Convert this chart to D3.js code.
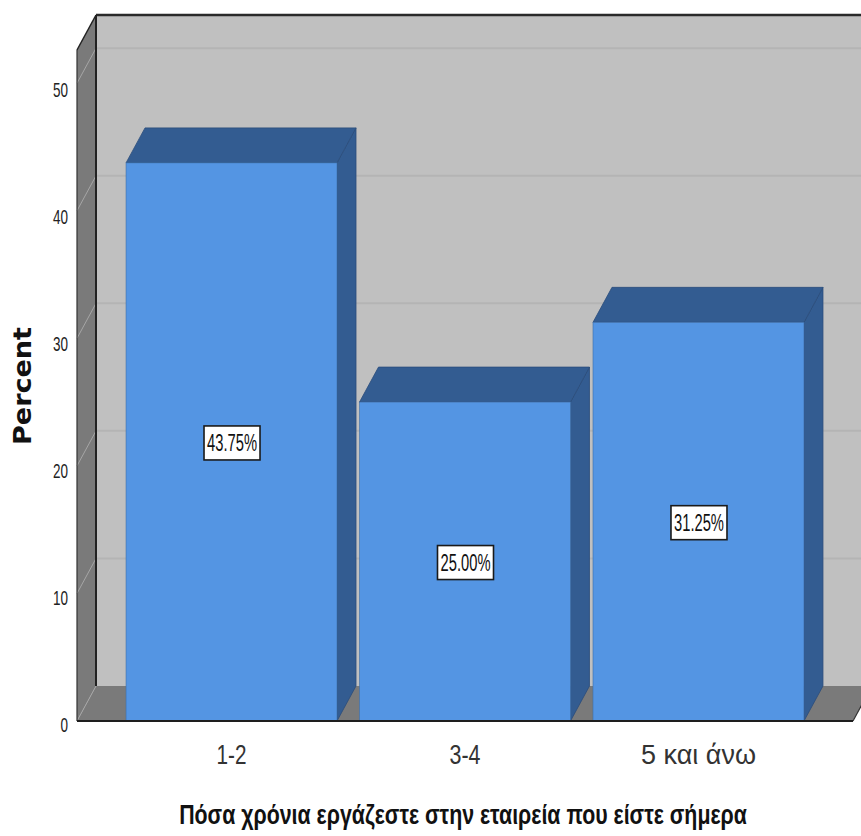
<!DOCTYPE html>
<html>
<head>
<meta charset="utf-8">
<script src="https://cdn.jsdelivr.net/npm/d3@7"></script>
<style>
  html, body { margin: 0; padding: 0; background: #ffffff; }
  svg { display: block; }
</style>
</head>
<body>
<svg id="chart" width="861" height="836"></svg>
<script>
// ---- data ----
const categories = ["1-2", "3-4", "5 και άνω"];
const percents = [43.75, 25.00, 31.25];
const barLabels = ["43.75%", "25.00%", "31.25%"];
const yTicks = [0, 10, 20, 30, 40, 50];
const yAxisTitle = "Percent";
const xAxisTitle = "Πόσα χρόνια εργάζεστε στην εταιρεία που είστε σήμερα";
const yMax = 52.6;

// ---- layout ----
const W = 861, H = 836;
const pLeft = 77, pRight = 853, pBottom = 721, pTop = 50;
const dx = 19, dy = -35;

const svg = d3.select("#chart");

const x = d3.scaleBand().domain(categories).range([pLeft, pRight])
  .paddingInner(0.0964).paddingOuter(0.21);
const y = d3.scaleLinear().domain([0, yMax]).range([pBottom, pTop]);
const yLabel = d3.scaleLinear().domain([0, 50]).range([pBottom + 3, 89.5]);

const wallColor = "#c0c0c0";
const sideColor = "#7a7a7a";
const frontBlue = "#5495e3";
const darkBlue = "#335c91";

// back wall
svg.append("rect")
  .attr("x", pLeft + dx).attr("y", y(yMax) + dy)
  .attr("width", W).attr("height", y(0) - y(yMax))
  .attr("fill", wallColor);

// back wall grid lines
svg.append("g").selectAll("line").data(yTicks.filter(d => d > 0)).join("line")
  .attr("x1", pLeft + dx).attr("x2", W)
  .attr("y1", d => y(d) + dy).attr("y2", d => y(d) + dy)
  .attr("stroke", "#b4b4b4").attr("stroke-width", 2);

const pts = a => a.map(p => p.join(",")).join(" ");
// left wall
svg.append("polygon")
  .attr("points", pts([[pLeft, y(yMax)], [pLeft + dx, y(yMax) + dy], [pLeft + dx, y(0) + dy], [pLeft, y(0)]]))
  .attr("fill", sideColor);

// floor
svg.append("polygon")
  .attr("points", pts([[pLeft, y(0)], [pLeft + dx, y(0) + dy], [pRight + dx, y(0) + dy], [pRight, y(0)]]))
  .attr("fill", sideColor);

// left wall grid diagonals
svg.append("g").selectAll("line").data(yTicks).join("line")
  .attr("x1", pLeft).attr("x2", pLeft + dx)
  .attr("y1", d => y(d)).attr("y2", d => y(d) + dy)
  .attr("stroke", "#a6a6a6").attr("stroke-width", 1);

// frame edges
svg.append("line").attr("x1", pLeft + dx).attr("x2", W)
  .attr("y1", y(yMax) + dy).attr("y2", y(yMax) + dy)
  .attr("stroke", "#2a2a2a").attr("stroke-width", 2.5);
svg.append("line").attr("x1", pLeft + dx).attr("x2", pLeft + dx)
  .attr("y1", y(yMax) + dy).attr("y2", y(0) + dy)
  .attr("stroke", "#222").attr("stroke-width", 2);
svg.append("line").attr("x1", pLeft).attr("x2", pLeft + dx)
  .attr("y1", y(yMax)).attr("y2", y(yMax) + dy)
  .attr("stroke", "#222").attr("stroke-width", 1.5);
svg.append("line").attr("x1", pLeft).attr("x2", pLeft)
  .attr("y1", y(yMax)).attr("y2", y(0))
  .attr("stroke", "#333").attr("stroke-width", 1.2);
svg.append("line").attr("x1", pRight).attr("x2", pRight + dx)
  .attr("y1", y(0)).attr("y2", y(0) + dy)
  .attr("stroke", "#333").attr("stroke-width", 1.2);

// bars
const bars = svg.append("g").selectAll("g").data(percents).join("g");
bars.each(function(v, i) {
  const g = d3.select(this);
  const x0 = x(categories[i]), x1 = x0 + x.bandwidth();
  const yt = y(v), yb = y(0);
  g.append("polygon")
    .attr("points", pts([[x1, yt], [x1 + dx, yt + dy], [x1 + dx, yb + dy], [x1, yb]]))
    .attr("fill", darkBlue).attr("stroke", "#2b4d7b").attr("stroke-width", 0.8);
  g.append("polygon")
    .attr("points", pts([[x0, yt], [x0 + dx, yt + dy], [x1 + dx, yt + dy], [x1, yt]]))
    .attr("fill", darkBlue).attr("stroke", "#2b4d7b").attr("stroke-width", 0.8);
  g.append("rect")
    .attr("x", x0).attr("y", yt).attr("width", x1 - x0).attr("height", yb - yt)
    .attr("fill", frontBlue).attr("stroke", "#3f6fa8").attr("stroke-width", 0.6);
});

// floor front edge
svg.append("line").attr("x1", pLeft).attr("x2", pRight)
  .attr("y1", y(0)).attr("y2", y(0))
  .attr("stroke", "#1e1e1e").attr("stroke-width", 2.2);

// helper: horizontally squeeze a text to a target width (keeps glyph height)
function squeeze(sel, cx, cy, target) {
  sel.attr("text-anchor", "middle").attr("x", 0).attr("y", 0);
  const len = sel.node().getComputedTextLength();
  const s = len > 0 ? target / len : 1;
  sel.attr("transform", `translate(${cx},${cy}) scale(${s},1)`);
}

// value labels
const lab = svg.append("g").selectAll("g").data(percents).join("g")
  .attr("transform", (v, i) => `translate(${x(categories[i]) + x.bandwidth() / 2 + 0.5},${(y(v) + y(0)) / 2 + 1})`);
lab.append("rect")
  .attr("x", -28).attr("y", -17).attr("width", 56).attr("height", 34)
  .attr("fill", "#ffffff").attr("stroke", "#1a1a1a").attr("stroke-width", 1.6);
lab.append("text")
  .attr("font-family", "Liberation Sans, Arial, sans-serif").attr("font-size", 23)
  .attr("fill", "#111")
  .text((v, i) => barLabels[i])
  .each(function() { squeeze(d3.select(this), 0, 8, 50); });

// y tick labels
svg.append("g").selectAll("text").data(yTicks).join("text")
  .attr("font-family", "Liberation Sans, Arial, sans-serif").attr("font-size", 20)
  .attr("fill", "#222")
  .text(d => d)
  .each(function(d) {
    const w = String(d).length * 7.5;
    squeeze(d3.select(this), 68 - w / 2, yLabel(d) + 7.5, w);
  });

// x tick labels
const xLabLen = { "1-2": 30, "3-4": 31, "5 και άνω": 115 };
svg.append("g").selectAll("text").data(categories).join("text")
  .attr("font-family", "Liberation Sans, Arial, sans-serif").attr("font-size", 28)
  .attr("fill", "#333")
  .text(d => d)
  .each(function(d) { squeeze(d3.select(this), x(d) + x.bandwidth() / 2, 764, xLabLen[d]); });

// y axis title
svg.append("text")
  .attr("transform", "translate(31,386) rotate(-90)")
  .attr("text-anchor", "middle")
  .attr("font-family", "DejaVu Sans, sans-serif").attr("font-weight", "bold").attr("font-size", 24)
  .attr("textLength", 118).attr("lengthAdjust", "spacingAndGlyphs")
  .attr("fill", "#111")
  .text(yAxisTitle);

// x axis title
svg.append("text")
  .attr("font-family", "Liberation Sans, Arial, sans-serif").attr("font-weight", "bold").attr("font-size", 27)
  .attr("fill", "#111")
  .text(xAxisTitle)
  .call(sel => squeeze(sel, 463, 824, 568));
</script>
</body>
</html>
